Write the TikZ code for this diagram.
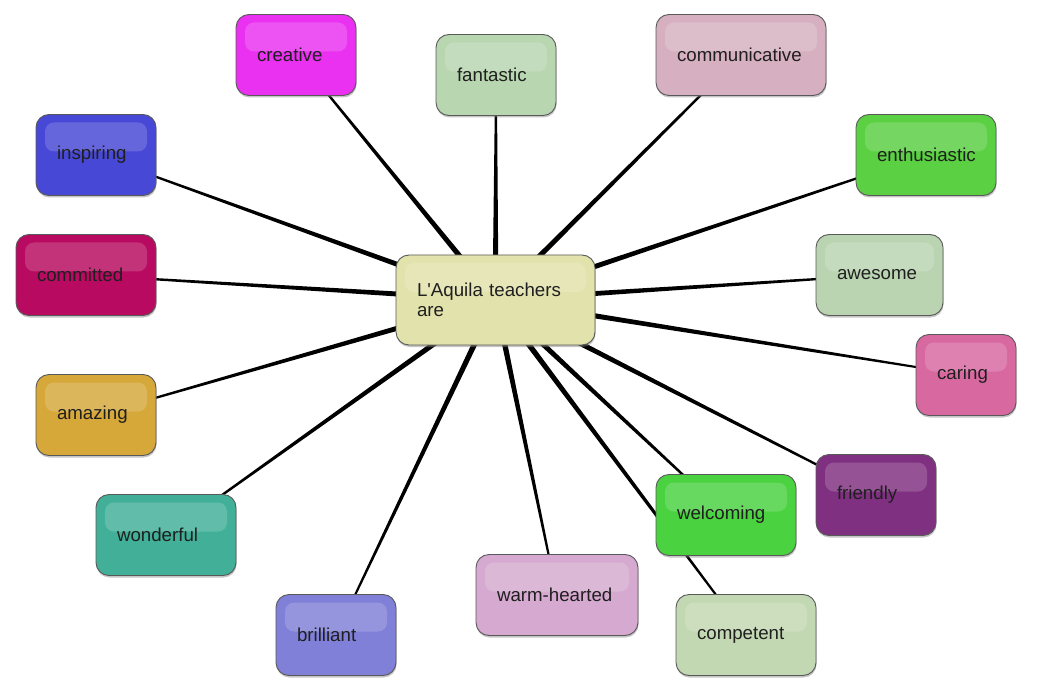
\documentclass[tikz,border=0pt]{standalone}
\usepackage{fontspec}
\setmainfont{Liberation Sans}
\usetikzlibrary{calc,shadows,backgrounds}
\definecolor{hubcol}{RGB}{226,226,172}
\definecolor{creativecol}{RGB}{234,48,240}
\definecolor{fantasticcol}{RGB}{184,214,176}
\definecolor{communicativecol}{RGB}{214,176,192}
\definecolor{inspiringcol}{RGB}{72,72,214}
\definecolor{enthusiasticcol}{RGB}{90,208,66}
\definecolor{committedcol}{RGB}{184,10,96}
\definecolor{awesomecol}{RGB}{186,212,178}
\definecolor{caringcol}{RGB}{216,104,160}
\definecolor{amazingcol}{RGB}{214,168,58}
\definecolor{friendlycol}{RGB}{128,48,128}
\definecolor{wonderfulcol}{RGB}{66,176,152}
\definecolor{welcomingcol}{RGB}{74,210,64}
\definecolor{warmcol}{RGB}{214,170,208}
\definecolor{brilliantcol}{RGB}{128,128,216}
\definecolor{competentcol}{RGB}{194,216,178}
\tikzset{
  box/.style={rounded corners=13pt, draw=black!65, line width=0.9pt,
    drop shadow={shadow xshift=0.5pt, shadow yshift=-2pt, opacity=0.45},
    minimum height=81pt, inner xsep=21pt, inner ysep=0pt, align=left,
    text=black!88, font=\fontsize{18.7}{20}\selectfont,
    path picture={
      \fill[white, opacity=0.17, rounded corners=9pt]
        ([xshift=9pt,yshift=-8pt]path picture bounding box.north west) rectangle
        ([xshift=-9pt,yshift=-37pt]path picture bounding box.north east);
    }},
}
\begin{document}
\begin{tikzpicture}[x=1pt,y=-1pt]
\useasboundingbox (0,0) rectangle (1040,700);
% the hub
\node [box, fill=hubcol, minimum height=90pt, text width=157pt] (hub) at (495.5,300) {L\textquotesingle Aquila teachers\\are};
% the words round it
\node [box, fill=creativecol, text width=78pt] (creative) at (296,55) {creative};
\node [box, fill=fantasticcol, text width=78pt] (fantastic) at (496,75) {fantastic};
\node [box, fill=communicativecol, text width=128pt] (communicative) at (741,55) {communicative};
\node [box, fill=inspiringcol, text width=78pt] (inspiring) at (96,155) {inspiring};
\node [box, fill=enthusiasticcol, text width=98pt] (enthusiastic) at (926,155) {enthusiastic};
\node [box, fill=committedcol, text width=98pt] (committed) at (86,275) {committed};
\node [box, fill=awesomecol, text width=85pt] (awesome) at (879.5,275) {awesome};
\node [box, fill=caringcol, text width=58pt] (caring) at (966,375) {caring};
\node [box, fill=amazingcol, text width=78pt] (amazing) at (96,415) {amazing};
\node [box, fill=friendlycol, text width=78pt] (friendly) at (876,495) {friendly};
\node [box, fill=wonderfulcol, text width=98pt] (wonderful) at (166,535) {wonderful};
\node [box, fill=welcomingcol, text width=98pt] (welcoming) at (726,515) {welcoming};
\node [box, fill=warmcol, text width=120pt] (warmhearted) at (557,595) {warm-hearted};
\node [box, fill=brilliantcol, text width=78pt] (brilliant) at (336,635) {brilliant};
\node [box, fill=competentcol, text width=98pt] (competent) at (746,635) {competent};
% tapered spokes behind the boxes
\begin{scope}[on background layer]
\fill [white] (0,0) rectangle (1040,700);
\foreach \n in {creative,fantastic,communicative,inspiring,enthusiastic,committed,awesome,caring,amazing,friendly,wonderful,competent,welcoming,warmhearted,brilliant}
  \fill [black] ($(hub.center)!3pt!90:(\n.center)$) -- ($(\n.center)!0.8pt!-90:(hub.center)$)
    -- ($(\n.center)!0.8pt!90:(hub.center)$) -- ($(hub.center)!3pt!-90:(\n.center)$) -- cycle;
\end{scope}
\end{tikzpicture}
\end{document}
